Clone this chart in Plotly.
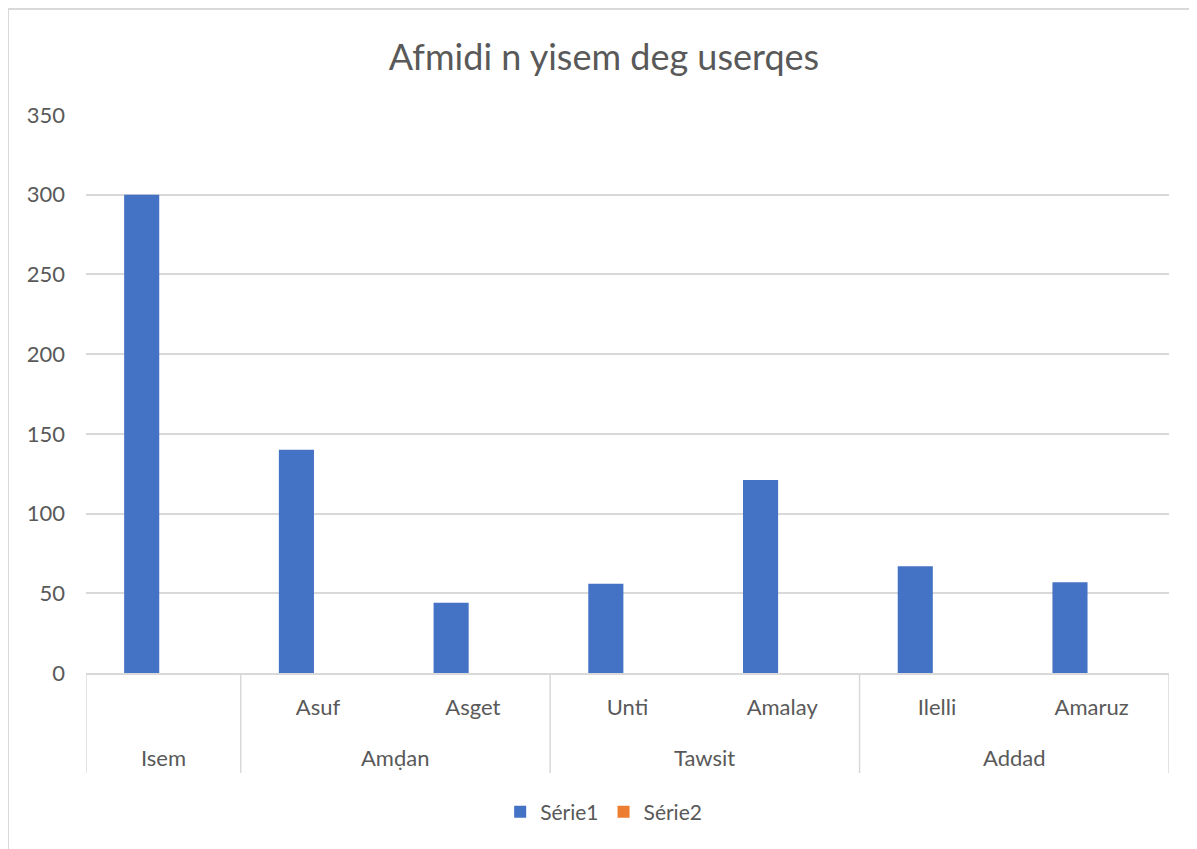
import plotly.graph_objects as go

groups = ["Isem", "Amḍan", "Tawsit", "Addad"]
group_sizes = [1, 2, 2, 2]
subcats = ["", "Asuf", "Asget", "Unti", "Amalay", "Ilelli", "Amaruz"]
serie1 = [300, 140, 44, 56, 121, 67, 57]
serie2 = [None, None, None, None, None, None, None]
y_ticks = [0, 50, 100, 150, 200, 250, 300, 350]

TXT = "#595959"
GRID = "#d9d9d9"
FONT = "Lato"

W, H = 1189, 841          # page has an 8px body margin
L, R, T, B = 78, 28, 107, 176
PW, PH = W - L - R, H - T - B

xs = list(range(len(subcats)))

fig = go.Figure()
fig.add_trace(go.Bar(x=xs, y=serie1, name="Série1",
                     marker=dict(color="#4472C4", line=dict(width=0))))
fig.add_trace(go.Bar(x=xs, y=serie2, name="Série2",
                     marker=dict(color="#ED7D31", line=dict(width=0))))

# group labels and dividers of the two-level category axis
annotations = []
shapes = []
start = 0
bounds = [-0.5]
for g, n in zip(groups, group_sizes):
    center = start + (n - 1) / 2
    annotations.append(dict(text=g, x=center, xref="x", y=-84 / PH, yref="paper",
                            xanchor="center", yanchor="middle", showarrow=False,
                            font=dict(family=FONT, size=22, color=TXT)))
    start += n
    bounds.append(start - 0.5)
for b in bounds:
    shapes.append(dict(type="line", xref="x", yref="paper", x0=b, x1=b,
                       y0=0, y1=-100 / PH, line=dict(color=GRID, width=1.5)))
# outer chart border
shapes.append(dict(type="rect", xref="paper", yref="paper",
                   x0=-(L - 0) / PW, x1=1 + (R + 20) / PW,
                   y0=-(B + 20) / PH, y1=1 + (T - 1) / PH,
                   line=dict(color=GRID, width=2), fillcolor="rgba(0,0,0,0)"))

fig.update_layout(
    width=W, height=H,
    paper_bgcolor="white", plot_bgcolor="white",
    margin=dict(l=L, r=R, t=T, b=B),
    barmode="group", bargap=0.44, bargroupgap=0.19,
    title=dict(text="Afmidi n yisem deg userqes", xref="container",
               x=(604 - 8) / W, xanchor="center",
               y=1 - 49 / H, yanchor="middle",
               font=dict(family=FONT, size=36, color=TXT)),
    font=dict(family=FONT, size=22, color=TXT),
    showlegend=True,
    legend=dict(orientation="h", x=0.478, xanchor="center", y=-139 / PH, yanchor="middle",
                font=dict(family=FONT, size=21, color=TXT), itemwidth=30,
                traceorder="normal"),
    xaxis=dict(range=[-0.5, 6.5], tickmode="array", tickvals=xs, ticktext=subcats,
               showline=True, linecolor=GRID, linewidth=1.5, showgrid=False,
               zeroline=False, ticks="", ticklabelstandoff=14,
               tickfont=dict(family=FONT, size=22, color=TXT)),
    yaxis=dict(range=[0, 350], tickvals=y_ticks, showgrid=True, gridcolor=GRID,
               gridwidth=1.5, zeroline=False, showline=False,
               tickfont=dict(family=FONT, size=22, color=TXT), ticklabelstandoff=20),
    annotations=annotations,
    shapes=shapes,
)

fig.write_html("out.html")
